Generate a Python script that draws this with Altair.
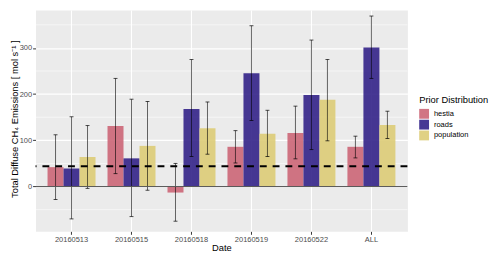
import altair as alt
import pandas as pd

dates = ["20160513", "20160515", "20160518", "20160519", "20160522", "ALL"]
priors = ["hestia", "roads", "population"]
colors = ["#CC6677", "#332288", "#DDCC77"]

hestia = [42, 131, -13, 86, 116, 86]
hestia_lo = [-28, 28, -75, 51, 60, 62]
hestia_hi = [112, 234, 50, 121, 174, 109]
roads = [39, 61, 168, 245, 198, 301]
roads_lo = [-70, -65, 65, 143, 80, 234]
roads_hi = [151, 189, 275, 348, 317, 369]
population = [64, 88, 126, 114, 188, 133]
population_lo = [-4, -8, 70, 65, 99, 104]
population_hi = [132, 184, 183, 165, 275, 163]

reference_level = [44]
zero_level = [0]
minor_breaks = [-50, 50, 150, 250, 350]

rows = []
for p, v, lo, hi in [("hestia", hestia, hestia_lo, hestia_hi),
                     ("roads", roads, roads_lo, roads_hi),
                     ("population", population, population_lo, population_hi)]:
    for d, a, b, c in zip(dates, v, lo, hi):
        rows.append({"date": d, "prior": p, "value": a, "lo": b, "hi": c})
df = pd.DataFrame(rows)

FONT = "Liberation Sans"
ytitle = "Total Diffuse CH\u2084 Emissions [ mol s\u207b\u00b9 ]"

yaxis = alt.Axis(values=[0, 100, 200, 300], title=ytitle, grid=True,
                 gridColor="white", gridWidth=1.1, domain=False,
                 tickColor="#333333", tickSize=3, labelPadding=1,
                 labelColor="#4D4D4D", labelFontSize=7.6, labelFont=FONT,
                 titleFont=FONT, titleFontSize=9.5, titleFontWeight="normal",
                 titleColor="black", titleX=-21, titleY=110.5,
                 titleBaseline="middle", titleAngle=270)
yscale = alt.Scale(domain=[-97, 382], nice=False, zero=False)

xenc = alt.X("date:N", sort=dates, title="Date",
             scale=alt.Scale(paddingInner=0.2, paddingOuter=0.2),
             axis=alt.Axis(bandPosition=0.5, labelAngle=0, grid=True,
                           gridColor="white", gridWidth=1.1, domain=False,
                           tickColor="#333333", tickSize=3, labelPadding=1,
                           labelColor="#4D4D4D", labelFontSize=7.6, labelFont=FONT,
                           titleFont=FONT, titleFontSize=9.5,
                           titleFontWeight="normal", titleColor="black",
                           titlePadding=0))
xoff = alt.XOffset("prior:N", sort=priors,
                   scale=alt.Scale(paddingInner=0, paddingOuter=0))

base = alt.Chart(df)

minor = alt.Chart(pd.DataFrame({"value": minor_breaks})).mark_rule(
    color="white", strokeWidth=0.55).encode(
    y=alt.Y("value:Q", scale=yscale, axis=yaxis))

bars = base.mark_bar(opacity=0.9).encode(
    x=xenc, xOffset=xoff,
    y=alt.Y("value:Q", scale=yscale, axis=yaxis),
    color=alt.Color("prior:N", sort=priors,
                    scale=alt.Scale(domain=priors, range=colors),
                    legend=alt.Legend(title="Prior Distribution", orient="none",
                                      legendX=390, legendY=87, padding=0,
                                      symbolType="square", symbolSize=100,
                                      symbolStrokeWidth=0, symbolOpacity=0.9,
                                      rowPadding=1, labelOffset=5,
                                      titlePadding=4, labelFont=FONT,
                                      labelFontSize=7.6, labelColor="black",
                                      titleFont=FONT, titleFontSize=9.5,
                                      titleFontWeight="normal",
                                      titleColor="black", titleLimit=200)))

err = base.mark_rule(color="black", opacity=0.6, strokeWidth=1).encode(
    x=xenc, xOffset=xoff,
    y=alt.Y("lo:Q", scale=yscale, axis=yaxis), y2="hi:Q")

cap_lo = base.mark_tick(color="black", opacity=0.7, size=4, thickness=1).encode(
    x=xenc, xOffset=xoff, y=alt.Y("lo:Q", scale=yscale, axis=yaxis))
cap_hi = base.mark_tick(color="black", opacity=0.7, size=4, thickness=1).encode(
    x=xenc, xOffset=xoff, y=alt.Y("hi:Q", scale=yscale, axis=yaxis))

zero = alt.Chart(pd.DataFrame({"value": zero_level})).mark_rule(
    color="#555555", strokeWidth=1).encode(
    y=alt.Y("value:Q", scale=yscale, axis=yaxis))

dash = alt.Chart(pd.DataFrame({"value": reference_level})).mark_rule(
    color="black", strokeWidth=2, strokeDash=[7, 6]).encode(
    y=alt.Y("value:Q", scale=yscale, axis=yaxis))

chart = alt.layer(minor, bars, err, cap_lo, cap_hi, zero, dash).properties(
    width=378, height=225,
    padding={"left": 28, "top": 0, "right": 86, "bottom": 24},
    autosize=alt.AutoSizeParams(type="none"),
    background="white",
).configure_view(fill="#EBEBEB", stroke="transparent")

chart.save("out.html", embed_options={"renderer": "svg", "actions": False})
